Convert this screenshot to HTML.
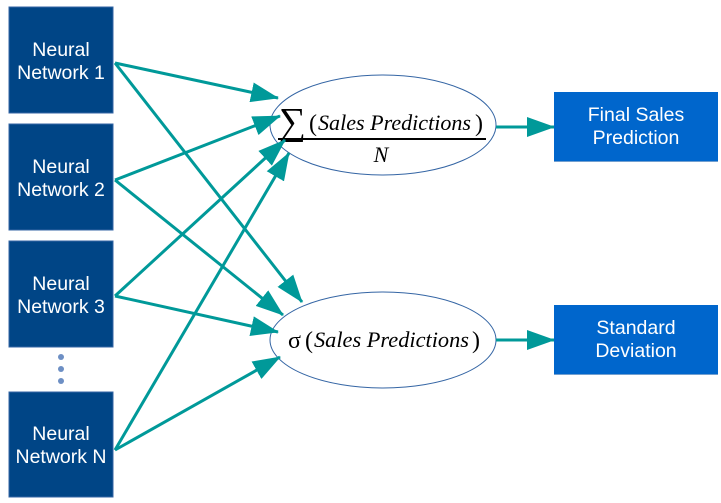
<!DOCTYPE html>
<html><head><meta charset="utf-8"><style>
html,body{margin:0;padding:0;background:#fff;}
svg{display:block;}
.bt{font-family:"Liberation Sans",sans-serif;font-size:19.5px;fill:#fff;}
.mt{font-family:"Liberation Serif",serif;font-style:italic;font-size:22px;fill:#000;}
.pr{font-family:"Liberation Serif",serif;font-size:24px;fill:#000;}
</style></head><body>
<svg width="721" height="503" viewBox="0 0 721 503">
<defs><marker id="ah2" markerWidth="28" markerHeight="20" refX="27" refY="10" orient="auto" markerUnits="userSpaceOnUse" viewBox="0 0 28 20"><path d="M0,0 L28,10 L0,20 z" fill="#009999"/></marker></defs>
<g><rect x="9" y="7" width="104" height="106" fill="#004586" stroke="#3465a4"/><text class="bt" x="61" y="56" text-anchor="middle">Neural</text><text class="bt" x="61" y="79" text-anchor="middle">Network 1</text></g>
<g><rect x="9" y="124" width="104" height="106" fill="#004586" stroke="#3465a4"/><text class="bt" x="61" y="173" text-anchor="middle">Neural</text><text class="bt" x="61" y="196" text-anchor="middle">Network 2</text></g>
<g><rect x="9" y="241" width="104" height="106" fill="#004586" stroke="#3465a4"/><text class="bt" x="61" y="290" text-anchor="middle">Neural</text><text class="bt" x="61" y="313" text-anchor="middle">Network 3</text></g>
<g fill="#6d8fc4"><circle cx="61" cy="357" r="3"/><circle cx="61" cy="369" r="3"/><circle cx="61" cy="381" r="3"/></g>
<g><rect x="9" y="392" width="104" height="105" fill="#004586" stroke="#3465a4"/><text class="bt" x="61" y="440" text-anchor="middle">Neural</text><text class="bt" x="61" y="463" text-anchor="middle">Network N</text></g>
<g><ellipse cx="383" cy="125" rx="113" ry="50" fill="#fff" stroke="#3465a4" stroke-width="1"/>
<text x="279" y="134" font-family="Liberation Serif,serif" font-size="38" fill="#000" textLength="27" lengthAdjust="spacingAndGlyphs">∑</text>
<text class="pr" x="309" y="131">(</text><text class="mt" x="318" y="130" textLength="153" lengthAdjust="spacingAndGlyphs">Sales Predictions</text><text class="pr" x="475" y="131">)</text>
<line x1="278" y1="139" x2="486" y2="139" stroke="#000" stroke-width="2"/>
<text class="mt" x="381" y="162" text-anchor="middle">N</text></g>
<g><ellipse cx="383" cy="340" rx="113" ry="48" fill="#fff" stroke="#3465a4" stroke-width="1"/>
<text x="288" y="348" font-family="Liberation Serif,serif" font-size="24" fill="#000">σ</text>
<text class="pr" x="305" y="348">(</text><text class="mt" x="314" y="347" textLength="155" lengthAdjust="spacingAndGlyphs">Sales Predictions</text><text class="pr" x="472" y="348">)</text></g>
<g stroke="#009999" stroke-width="3" fill="none" marker-end="url(#ah2)">
<line x1="115" y1="63" x2="278" y2="98"/>
<line x1="115" y1="63" x2="302" y2="302"/>
<line x1="115" y1="180" x2="280" y2="116"/>
<line x1="115" y1="180" x2="283" y2="315"/>
<line x1="115" y1="296" x2="285" y2="140"/>
<line x1="115" y1="296" x2="278" y2="332"/>
<line x1="115" y1="450" x2="289" y2="153"/>
<line x1="115" y1="450" x2="280" y2="357"/>
</g>
<g stroke="#009999" stroke-width="3" marker-end="url(#ah2)">
<line x1="496" y1="127" x2="554" y2="127"/>
<line x1="496" y1="340" x2="554" y2="340"/>
</g>
<g><rect x="554" y="92" width="164" height="70" fill="#0066cc"/><line x1="554" y1="161.5" x2="718" y2="161.5" stroke="#729fcf"/><text class="bt" x="636" y="121" text-anchor="middle">Final Sales</text><text class="bt" x="636" y="144" text-anchor="middle">Prediction</text></g>
<g><rect x="554" y="305" width="164" height="70" fill="#0066cc"/><line x1="554" y1="374.5" x2="718" y2="374.5" stroke="#729fcf"/><text class="bt" x="636" y="334" text-anchor="middle">Standard</text><text class="bt" x="636" y="357" text-anchor="middle">Deviation</text></g>
</svg>
</body></html>
